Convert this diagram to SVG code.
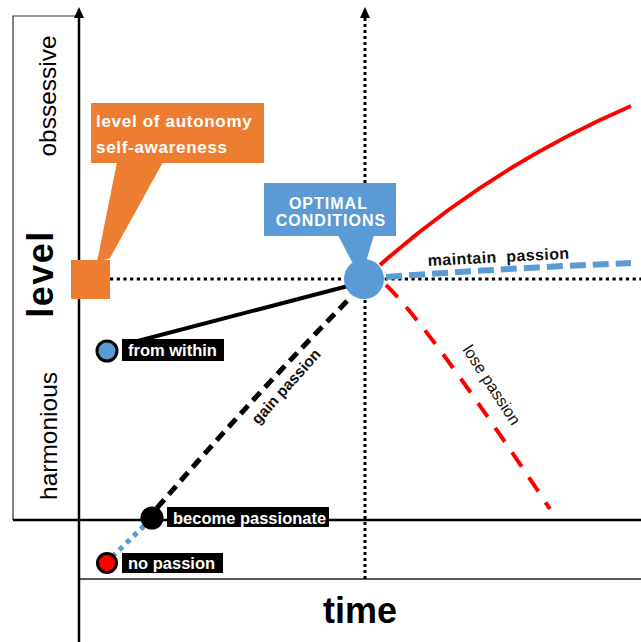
<svg xmlns="http://www.w3.org/2000/svg" width="641" height="642" viewBox="0 0 641 642">
  <style>
    .axis-label { font-family: "Liberation Sans", Arial, sans-serif; fill: #000; }
    .tag-text { font-family: "Liberation Sans", Arial, sans-serif; font-weight: bold; font-size: 16.5px; fill: #fff; }
    .tag-box { fill: #000; }
    .path-label { font-family: "Liberation Sans", Arial, sans-serif; fill: #111; }
    .dots { stroke: #000; stroke-width: 3; fill: none; }
  </style>

  <rect width="641" height="642" fill="#fff"/>

  <!-- frame and axes -->
  <g id="axes">
    <path d="M79,520 V16 H13 V520" fill="none" stroke="#333" stroke-width="1.2"/>
    <line x1="13" y1="520" x2="641" y2="520" stroke="#000" stroke-width="2.5"/>
    <line x1="80" y1="579" x2="641" y2="579" stroke="#222" stroke-width="1.4"/>
    <line x1="79" y1="642" x2="79" y2="17" stroke="#000" stroke-width="2.5"/>
    <path d="M74,18 L79,7 L84,18 Z" fill="#000"/>
    <line x1="365" y1="18" x2="365" y2="579" class="dots" stroke-dasharray="3 3"/>
    <path d="M360,18 L365,7 L370,18 Z" fill="#000"/>
    <line x1="110" y1="279" x2="641" y2="279" class="dots" stroke-dasharray="3.2 3.5"/>
    <text class="axis-label" font-size="24.5" text-anchor="middle" transform="translate(56,96) rotate(-90)">obssessive</text>
    <text class="axis-label" font-size="36" font-weight="bold" letter-spacing="1.5" text-anchor="middle" transform="translate(53,274) rotate(-90)">level</text>
    <text class="axis-label" font-size="24.5" text-anchor="middle" transform="translate(57,436) rotate(-90)">harmonious</text>
    <text class="axis-label" font-size="36" font-weight="bold" x="323" y="623">time</text>
  </g>

  <!-- connectors -->
  <g id="connectors" fill="none">
    <line x1="112" y1="557" x2="146" y2="524" stroke="#5B9BD5" stroke-width="5" stroke-dasharray="5 5"/>
    <path d="M157,508 Q252,398 352,296" stroke="#000" stroke-width="5" stroke-dasharray="11 7"/>
    <path d="M130,343 L348,286" stroke="#000" stroke-width="4"/>
    <path d="M380,265 Q492,166 631,106" stroke="#FF0000" stroke-width="4"/>
    <path d="M386,277 Q510,268 631,263" stroke="#5B9BD5" stroke-width="6" stroke-dasharray="16 7"/>
    <path d="M386,285 Q428,325 550,509" stroke="#FF0000" stroke-width="4" stroke-dasharray="17 13"/>
    <text class="path-label" font-size="16" font-weight="bold" letter-spacing="0.4" transform="translate(428,266) rotate(-3)" xml:space="preserve">maintain  passion</text>
    <text class="path-label" font-size="15.5" font-weight="bold" text-anchor="middle" transform="translate(290,390) rotate(-48)">gain passion</text>
    <text class="path-label" font-size="16.5" text-anchor="middle" transform="translate(487,388) rotate(57)">lose passion</text>
  </g>

  <!-- callout: autonomy -->
  <g id="autonomy">
    <polygon points="117,162 163,162 110,258 97,262" fill="#ED7D31"/>
    <rect x="91" y="103" width="173" height="60" fill="#ED7D31"/>
    <rect x="71" y="260" width="39" height="39" fill="#ED7D31"/>
    <text font-family="'Liberation Sans', Arial, sans-serif" font-weight="bold" font-size="17" letter-spacing="0.7" fill="#fff">
      <tspan x="96" y="127">level of autonomy</tspan>
      <tspan x="96" y="153">self-awareness</tspan>
    </text>
  </g>

  <!-- callout: optimal conditions -->
  <g id="optimal">
    <polygon points="338,235 374,235 366,262 352,262" fill="#5B9BD5"/>
    <rect x="264" y="183" width="132" height="53" fill="#5B9BD5"/>
    <circle cx="364" cy="279" r="20" fill="#5B9BD5"/>
    <text font-family="'Liberation Sans', Arial, sans-serif" font-weight="bold" font-size="16" letter-spacing="1" fill="#fff" text-anchor="middle">
      <tspan x="331" y="209">OPTIMAL</tspan>
      <tspan x="331" y="226">CONDITIONS</tspan>
    </text>
  </g>

  <!-- point: from within -->
  <g id="from-within">
    <circle cx="107" cy="351" r="10" fill="#5B9BD5" stroke="#000" stroke-width="3"/>
    <rect class="tag-box" x="122" y="339" width="102" height="22"/>
    <text class="tag-text" x="128" y="356">from within</text>
  </g>

  <!-- point: become passionate -->
  <g id="become-passionate">
    <circle cx="152" cy="518" r="11.5" fill="#000"/>
    <rect class="tag-box" x="167" y="507" width="162" height="20"/>
    <text class="tag-text" x="173" y="523.5">become passionate</text>
  </g>

  <!-- point: no passion -->
  <g id="no-passion">
    <circle cx="107" cy="563" r="9.5" fill="#FF0000" stroke="#000" stroke-width="3"/>
    <rect class="tag-box" x="122" y="553" width="101" height="20"/>
    <text class="tag-text" x="128" y="569">no passion</text>
  </g>
</svg>
